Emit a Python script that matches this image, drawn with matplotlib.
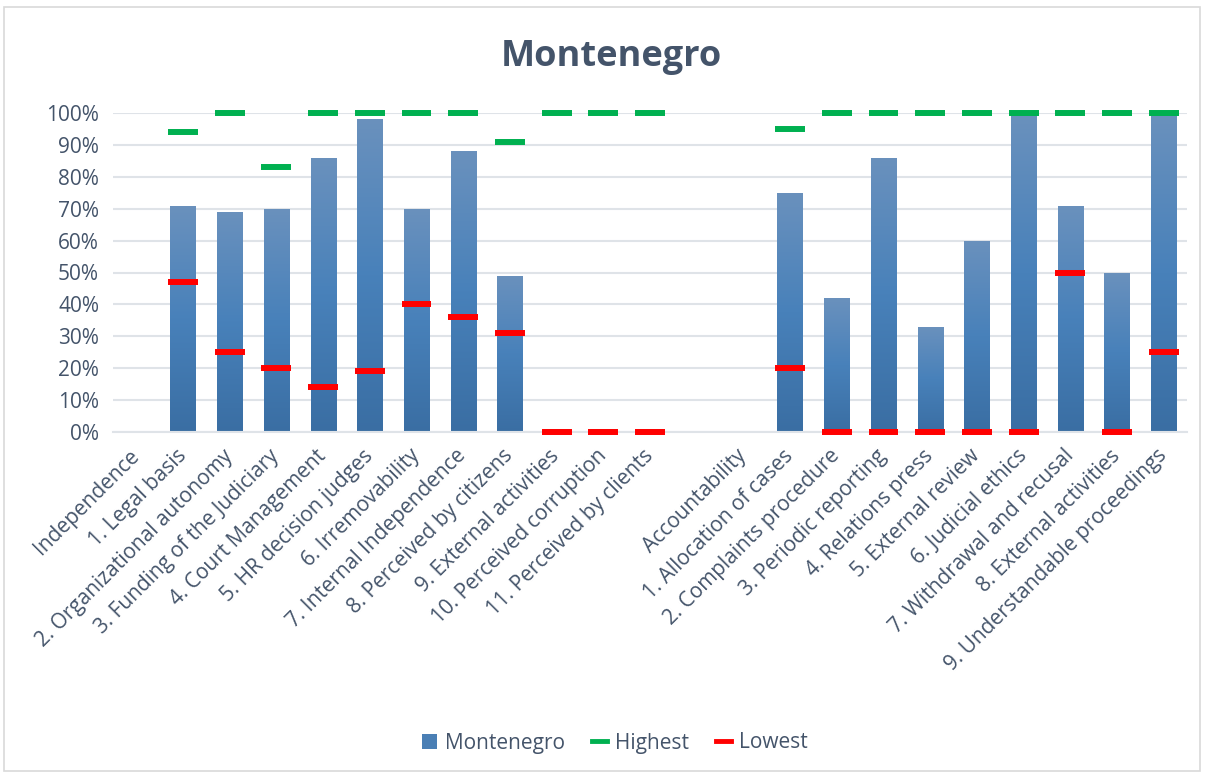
import numpy as np
import matplotlib
matplotlib.use("Agg")
import matplotlib.pyplot as plt
from matplotlib.colors import LinearSegmentedColormap
from matplotlib.lines import Line2D
from matplotlib.patches import Patch, Rectangle

categories = [
    "Independence", "1. Legal basis", "2. Organizational autonomy",
    "3. Funding of the Judiciary", "4. Court Management", "5. HR decision judges",
    "6. Irremovability", "7. Internal Independence", "8. Perceived by citizens",
    "9. External activities", "10. Perceived corruption", "11. Perceived by clients",
    "", "Accountability", "1. Allocation of cases", "2. Complaints procedure",
    "3. Periodic reporting", "4. Relations press", "5. External review",
    "6. Judicial ethics", "7. Withdrawal and recusal", "8. External activities",
    "9. Understandable proceedings",
]
nan = np.nan
montenegro = [nan, 0.71, 0.69, 0.70, 0.86, 0.98, 0.70, 0.88, 0.49, 0.008, 0.008, 0.008,
              nan, nan, 0.75, 0.42, 0.86, 0.33, 0.60, 0.995, 0.71, 0.50, 0.995]
highest = [nan, 0.94, 1.00, 0.83, 1.00, 1.00, 1.00, 1.00, 0.91, 1.00, 1.00, 1.00,
           nan, nan, 0.95, 1.00, 1.00, 1.00, 1.00, 1.00, 1.00, 1.00, 1.00]
lowest = [nan, 0.47, 0.25, 0.20, 0.14, 0.19, 0.40, 0.36, 0.31, 0.00, 0.00, 0.00,
          nan, nan, 0.20, 0.00, 0.00, 0.00, 0.00, 0.00, 0.50, 0.00, 0.25]
yticks = [0, 0.1, 0.2, 0.3, 0.4, 0.5, 0.6, 0.7, 0.8, 0.9, 1.0]
ytick_labels = ["0%", "10%", "20%", "30%", "40%", "50%", "60%", "70%", "80%", "90%", "100%"]

TEXT = "#44546a"
GRID = "#dfe3e8"
plt.rcParams["font.family"] = ["Open Sans", "DejaVu Sans"]

W, H = 1207, 777
fig = plt.figure(figsize=(W / 100, H / 100), dpi=100)
fig.patches.append(Rectangle((4 / W, 6 / H), 1196 / W, 764 / H, transform=fig.transFigure,
                             fill=False, edgecolor="#d9d9d9", linewidth=1.2))
ax = fig.add_axes([113 / W, (H - 432) / H, 1074 / W, 319 / H])

x = np.arange(len(categories))
mvals = np.array(montenegro, dtype=float)
bars = ax.bar(x, np.nan_to_num(mvals), width=0.54, color="#4a7fb5", zorder=2)

cmap = LinearSegmentedColormap.from_list("g", ["#3a6ea3", "#4881ba", "#6a91bd"])
grad = np.linspace(0, 1, 256).reshape(-1, 1)
for b, v in zip(bars, mvals):
    if np.isnan(v) or v <= 0:
        continue
    x0, w, h = b.get_x(), b.get_width(), b.get_height()
    im = ax.imshow(grad, extent=[x0, x0 + w, 0, h], origin="lower", cmap=cmap,
                   aspect="auto", zorder=2.5)
    im.set_clip_path(b)

half = 0.32
hv = np.array(highest, dtype=float)
lv = np.array(lowest, dtype=float)
m = ~np.isnan(hv)
ax.hlines(hv[m], x[m] - half, x[m] + half, colors="#00b050", linewidth=4.3, zorder=4,
          clip_on=False)
m = ~np.isnan(lv)
ax.hlines(lv[m], x[m] - half, x[m] + half, colors="#ff0000", linewidth=4.3, zorder=4,
          clip_on=False)

ax.set_xlim(-0.5, len(categories) - 0.5)
ax.set_ylim(0, 1.0)
ax.set_yticks(yticks)
ax.set_yticklabels(ytick_labels, fontsize=15, color=TEXT)
ax.set_xticks(x)
ax.set_xticklabels(categories, rotation=45, ha="right", va="center",
                   rotation_mode="anchor", fontsize=15, color=TEXT)
ax.tick_params(axis="both", length=0)
ax.tick_params(axis="y", pad=10)
ax.tick_params(axis="x", pad=15)
ax.yaxis.grid(True, color=GRID, linewidth=1.5, zorder=0)
ax.set_axisbelow(True)
for s in ["top", "right", "left"]:
    ax.spines[s].set_visible(False)
ax.spines["bottom"].set_color(GRID)
ax.spines["bottom"].set_linewidth(1.5)

fig.text(611 / W, 1 - 57 / H, "Montenegro", ha="center", va="center", fontsize=26,
         fontweight="bold", color=TEXT)

handles = [
    Patch(facecolor="#4a7fb5", edgecolor="none"),
    Line2D([0], [0], color="#00b050", linewidth=3.5),
    Line2D([0], [0], color="#ff0000", linewidth=3.5),
]
fig.legend(handles, ["Montenegro", "Highest", "Lowest"], loc="center",
           bbox_to_anchor=(615 / W, 1 - 743 / H), ncol=3, frameon=False, fontsize=15,
           labelcolor=TEXT, handlelength=0.7, handleheight=0.7, handletextpad=0.4,
           columnspacing=1.3)

fig.savefig("out.png", dpi=100)
